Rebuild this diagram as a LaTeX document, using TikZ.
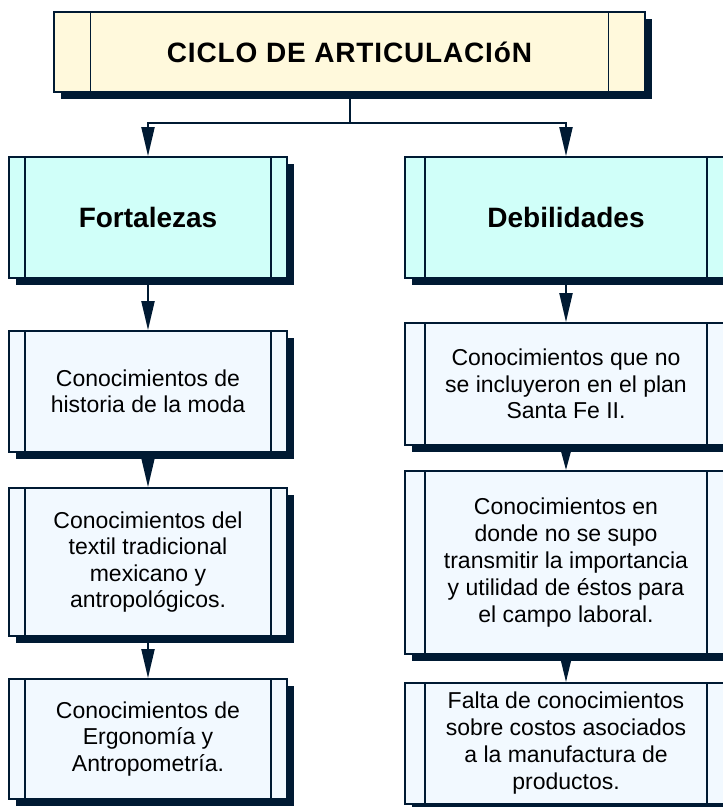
\documentclass[tikz,border=0pt]{standalone}
\usepackage{fontspec}
\setmainfont{Liberation Sans}
\newfontfamily\titlefont[LetterSpace=3]{Liberation Sans}
\usetikzlibrary{shadows,arrows.meta}
\definecolor{navy}{HTML}{001A33}
\definecolor{ylw}{HTML}{FFF9DC}
\definecolor{cyn}{HTML}{D0FFF9}
\definecolor{lgt}{HTML}{F2F9FF}
\tikzset{
  boxbase/.style={draw=navy, line width=1.8pt, rectangle, inner sep=0pt, align=center,
    general shadow={shadow xshift=7pt, shadow yshift=-7pt, fill=navy}},
  bars/.style={path picture={
    \draw[navy, line width=1.8pt] ([xshift=#1]path picture bounding box.north west) -- ([xshift=#1]path picture bounding box.south west);
    \draw[navy, line width=1.8pt] ([xshift=-#1]path picture bounding box.north east) -- ([xshift=-#1]path picture bounding box.south east);}},
  titlebox/.style={boxbase, fill=ylw, bars=36.5pt, minimum width=591pt, minimum height=80pt,
    font=\titlefont\fontsize{28}{32}\selectfont\bfseries},
  headbox/.style={boxbase, fill=cyn, minimum height=121pt, font=\fontsize{28}{32}\selectfont\bfseries},
  itembox/.style={boxbase, fill=lgt, font=\fontsize{23}{26.5}\selectfont},
  leftcol/.style={bars=16pt, minimum width=278pt},
  rightcol/.style={bars=20pt, minimum width=322pt},
  conn/.style={draw=navy, line width=2pt},
  arr/.style={conn, -{Triangle[length=29pt, width=13pt]}},
}
\begin{document}
\begin{tikzpicture}[x=1pt, y=-1pt]
\useasboundingbox (0,0) rectangle (723,807);
\clip (0,0) rectangle (723,807);
\node[titlebox] (top) at (349.5,52) {CICLO DE ARTICULACIóN};
\node[headbox, leftcol] (fort) at (148,217.5) {Fortalezas};
\node[headbox, rightcol] (deb) at (566,217.5) {Debilidades};
\node[itembox, leftcol, minimum height=121pt] (l1) at (148,391.5) {Conocimientos de\\historia de la moda};
\node[itembox, leftcol, minimum height=148pt] (l2) at (148,562) {Conocimientos del\\textil tradicional\\mexicano y\\antropológicos.};
\node[itembox, leftcol, minimum height=120pt] (l3) at (148,739) {Conocimientos de\\Ergonomía y\\Antropometría.};
\node[itembox, rightcol, minimum height=122pt] (r1) at (566,384) {Conocimientos que no\\se incluyeron en el plan\\Santa Fe II.};
\node[itembox, rightcol, minimum height=183pt, font=\fontsize{23}{27}\selectfont] (r2) at (566,562.5) {Conocimientos en\\donde no se supo\\transmitir la importancia\\y utilidad de éstos para\\el campo laboral.};
\node[itembox, rightcol, minimum height=121pt, font=\fontsize{23}{27}\selectfont] (r3) at (566,743.5) {Falta de conocimientos\\sobre costos asociados\\a la manufactura de\\productos.};
\coordinate (j) at (349.5,123);
\draw[conn] (top.south) -- (j);
\draw[arr] (j) -| (fort.north);
\draw[arr] (j) -| (deb.north);
\draw[arr] (fort.south) -- (l1.north);
\draw[arr] (l1.south) -- (l2.north);
\draw[arr] (l2.south) -- (l3.north);
\draw[arr] (deb.south) -- (r1.north);
\draw[conn, -{Triangle[length=18pt, width=9pt]}] (r1.south) -- (r2.north);
\draw[conn, -{Triangle[length=22pt, width=10pt]}] (r2.south) -- (r3.north);
\end{tikzpicture}
\end{document}
